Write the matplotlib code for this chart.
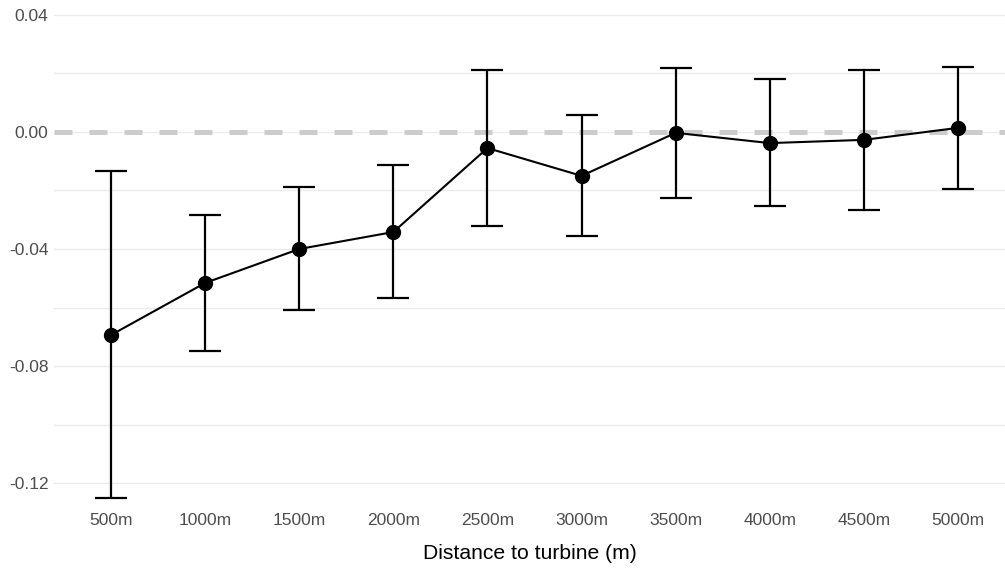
import matplotlib
matplotlib.use("Agg")
import matplotlib.pyplot as plt
import numpy as np

categories = ["500m", "1000m", "1500m", "2000m", "2500m", "3000m", "3500m", "4000m", "4500m", "5000m"]
estimate = [-0.0694, -0.0516, -0.0400, -0.0342, -0.0055, -0.0150, -0.0003, -0.0038, -0.0027, 0.0014]
upper = [-0.0133, -0.0284, -0.0188, -0.0113, 0.0212, 0.0058, 0.0219, 0.0181, 0.0212, 0.0222]
lower = [-0.1251, -0.0749, -0.0609, -0.0568, -0.0321, -0.0356, -0.0226, -0.0253, -0.0267, -0.0195]
yticks = [0.04, 0.00, -0.04, -0.08, -0.12]
ytick_labels = ["0.04", "0.00", "-0.04", "-0.08", "-0.12"]

plt.rcParams['font.family'] = ['Liberation Sans', 'DejaVu Sans']

W, H = 1005, 572
fig = plt.figure(figsize=(W/100, H/100), dpi=100)
ax = fig.add_axes([54/W, 1 - 505/H, (W - 54)/W, 500/H])

x = np.arange(1, len(categories) + 1)
est = np.array(estimate)
up = np.array(upper)
lo = np.array(lower)

# grid
for v in np.arange(-0.12, 0.041, 0.02):
    ax.axhline(v, color='#ebebeb', lw=1.0, zorder=0)
ax.axhline(0, color='#cccccc', lw=3.6, ls=(0, (3.6, 3.4)), zorder=1)

ax.errorbar(x, est, yerr=[est - lo, up - est], fmt='none', ecolor='black',
            elinewidth=1.6, capsize=11.5, capthick=1.6, zorder=2)
ax.plot(x, est, color='black', lw=1.5, zorder=3)
ax.plot(x, est, 'o', color='black', ms=10, zorder=4)

ax.set_xlim(0.394, 10.5)
ax.set_ylim(-0.1275, 0.0434)
ax.set_xticks(x)
ax.set_xticklabels(categories)
ax.set_yticks(yticks)
ax.set_yticklabels(ytick_labels)
ax.tick_params(axis='y', length=0, labelsize=12.5, colors='#4d4d4d', pad=4)
ax.tick_params(axis='x', length=0, labelsize=12.5, colors='#4d4d4d', pad=6)
for s in ax.spines.values():
    s.set_visible(False)
ax.set_xlabel("Distance to turbine (m)", fontsize=15.2, color='black', labelpad=11.5)

fig.savefig("out.png", dpi=100)
